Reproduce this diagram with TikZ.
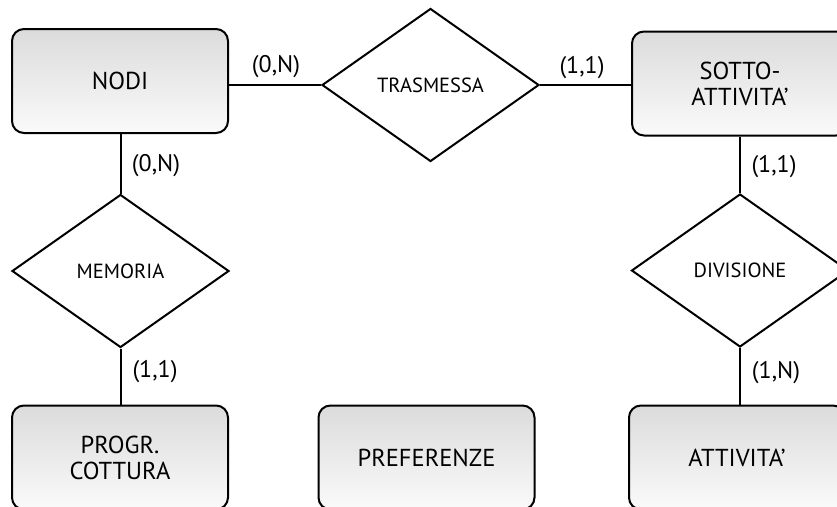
\documentclass[tikz,border=0pt]{standalone}
\usepackage{fontspec}
\setmainfont{PT Sans}
\usetikzlibrary{shapes.geometric}

\tikzset{
  entity/.style={draw=black, line width=2pt, rounded corners=12pt,
    top color=gray!28, bottom color=gray!4,
    minimum width=216pt, minimum height=104pt, inner sep=0pt,
    align=center, font=\fontsize{24.5}{26}\selectfont},
  relation/.style={draw=black, line width=2pt, diamond, fill=white,
    minimum width=217pt, minimum height=153pt, inner sep=0pt,
    font=\fontsize{20.5}{22}\selectfont},
  link/.style={draw=black, line width=2pt},
  card/.style={inner sep=0pt, font=\fontsize{24}{26}\selectfont}
}

\begin{document}
\begin{tikzpicture}[x=1pt, y=-1pt]
  \useasboundingbox (0,0) rectangle (837,506);
  \clip (0,0) rectangle (837,506);

  % entities
  \node[entity] (nodi)  at (120,81)    {NODI};
  \node[entity] (sotto) at (740,83.5)  {SOTTO-\\ATTIVITA'};
  \node[entity] (progr) at (120,457.5) {PROGR.\\COTTURA};
  \node[entity] (pref)  at (426.5,457.5) {PREFERENZE};
  \node[entity] (attiv) at (737,457.5) {ATTIVITA'};

  % relationships
  \node[relation] (tras) at (430.5,85)  {TRASMESSA};
  \node[relation] (mem)  at (120.5,271) {MEMORIA};
  \node[relation] (div)  at (740,270.5) {DIVISIONE};

  % connectors
  \draw[link] (tras.west) -- (tras.west -| nodi.east);
  \draw[link] (tras.east) -- (tras.east -| sotto.west);
  \draw[link] (nodi.south -| mem.north) -- (mem.north);
  \draw[link] (mem.south) -- (mem.south |- progr.north);
  \draw[link] (sotto.south -| div.north) -- (div.north);
  \draw[link] (div.south) -- (div.south |- attiv.north);

  % cardinalities
  \node[card] (c1) at (276,67)  {(0,N)};
  \node[card] (c2) at (582,68)  {(1,1)};
  \node[card] (c3) at (156,166) {(0,N)};
  \node[card] (c4) at (155,372) {(1,1)};
  \node[card] (c5) at (774,167) {(1,1)};
  \node[card] (c6) at (776,373) {(1,N)};
\end{tikzpicture}
\end{document}
